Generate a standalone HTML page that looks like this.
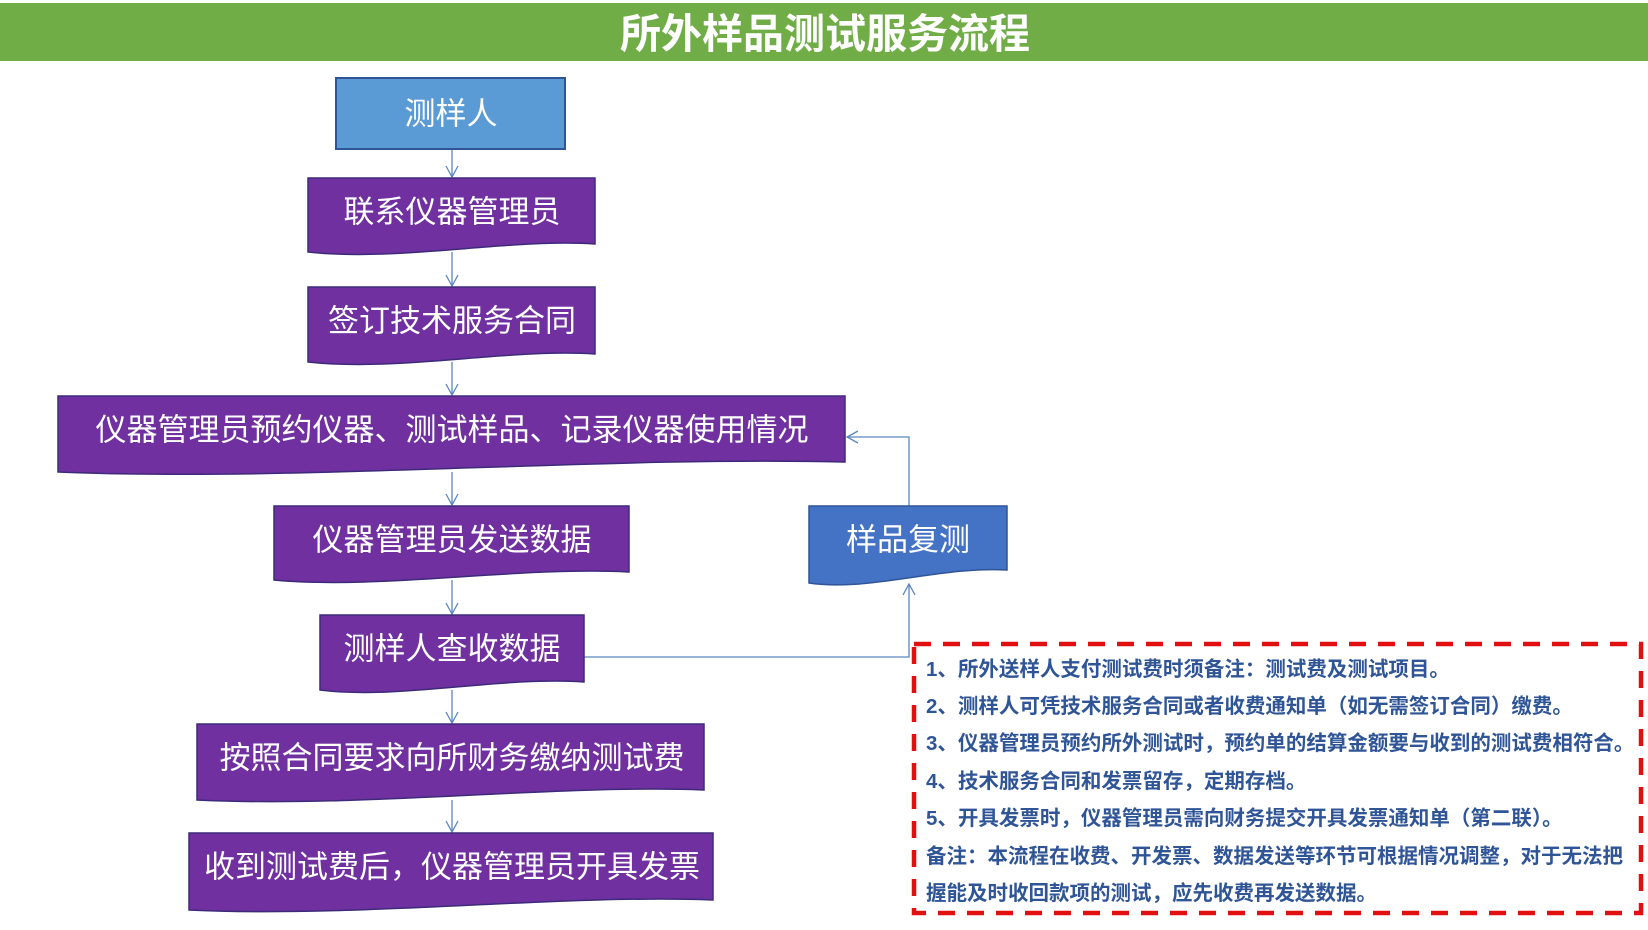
<!DOCTYPE html>
<html><head><meta charset="utf-8"><style>
html,body{margin:0;padding:0;background:#fff;}
body{width:1648px;height:930px;overflow:hidden;position:relative;}
svg{position:absolute;left:0;top:0;}
.t{font-family:"Liberation Sans","Noto Sans CJK SC",sans-serif;fill:#fff;text-anchor:middle;dominant-baseline:central;}
.n{font-family:"Liberation Sans","Noto Sans CJK SC",sans-serif;font-weight:bold;fill:#2f5597;font-size:20.5px;}
</style></head><body>
<svg width="1648" height="930" viewBox="0 0 1648 930">
<defs>
<marker id="a" markerWidth="14" markerHeight="14" refX="12" refY="7" orient="auto" markerUnits="userSpaceOnUse">
<path d="M1,1 L12,7 L1,13" fill="none" stroke="#5b86c0" stroke-width="1.3"/>
</marker>
</defs>
<rect x="0" y="3" width="1648" height="58" fill="#70ad47"/>
<text class="t" x="825" y="34" font-size="41" font-weight="bold">所外样品测试服务流程</text>

<g stroke="#5b86c0" stroke-width="1.3" fill="none">
<line x1="452" y1="149" x2="452" y2="177" marker-end="url(#a)"/>
<line x1="452" y1="252" x2="452" y2="286" marker-end="url(#a)"/>
<line x1="452" y1="362" x2="452" y2="395" marker-end="url(#a)"/>
<line x1="452" y1="472" x2="452" y2="505" marker-end="url(#a)"/>
<line x1="452" y1="580" x2="452" y2="614" marker-end="url(#a)"/>
<line x1="452" y1="690" x2="452" y2="723" marker-end="url(#a)"/>
<line x1="452" y1="800" x2="452" y2="832" marker-end="url(#a)"/>
<polyline points="584,657 909,657 909,584" marker-end="url(#a)"/>
<polyline points="909,506 909,437 847,437" marker-end="url(#a)"/>
</g>

<rect x="336" y="78" width="229" height="71" fill="#5b9bd5" stroke="#2f5597" stroke-width="2"/>
<text class="t" x="451" y="114" font-size="31">测样人</text>

<g fill="#7030a0" stroke="#3d2a7a" stroke-width="1.5">
<path d="M308,178 H595 V244 C510,238 400,262 308,252 Z"/>
<path d="M308,287 H595 V354 C510,348 400,372 308,362 Z"/>
<path d="M58,396 H845 V462 C600,456 300,482 58,472 Z"/>
<path d="M274,506 H629 V572 C520,566 380,590 274,580 Z"/>
<path d="M320,615 H584 V682 C500,676 400,700 320,690 Z"/>
<path d="M197,724 H704 V790 C560,784 360,808 197,800 Z"/>
<path d="M189,833 H713 V900 C560,894 360,918 189,910 Z"/>
</g>
<path d="M809,506 H1007 V570 C940,566 870,592 809,583 Z" fill="#4472c4" stroke="#2f5597" stroke-width="1.5"/>

<text class="t" x="452" y="212" font-size="31">联系仪器管理员</text>
<text class="t" x="452" y="321" font-size="31">签订技术服务合同</text>
<text class="t" x="452" y="430" font-size="31">仪器管理员预约仪器、测试样品、记录仪器使用情况</text>
<text class="t" x="452" y="540" font-size="31">仪器管理员发送数据</text>
<text class="t" x="452" y="649" font-size="31">测样人查收数据</text>
<text class="t" x="452" y="758" font-size="31">按照合同要求向所财务缴纳测试费</text>
<text class="t" x="452" y="867" font-size="31">收到测试费后，仪器管理员开具发票</text>
<text class="t" x="908" y="540" font-size="31">样品复测</text>

<rect x="914" y="644" width="727" height="269" fill="none" stroke="#e01010" stroke-width="4.5" stroke-dasharray="17,12"/>
<text class="n" x="926" y="676">1、所外送样人支付测试费时须备注：测试费及测试项目。</text>
<text class="n" x="926" y="713">2、测样人可凭技术服务合同或者收费通知单（如无需签订合同）缴费。</text>
<text class="n" x="926" y="750">3、仪器管理员预约所外测试时，预约单的结算金额要与收到的测试费相符合。</text>
<text class="n" x="926" y="788">4、技术服务合同和发票留存，定期存档。</text>
<text class="n" x="926" y="825">5、开具发票时，仪器管理员需向财务提交开具发票通知单（第二联）。</text>
<text class="n" x="926" y="863">备注：本流程在收费、开发票、数据发送等环节可根据情况调整，对于无法把</text>
<text class="n" x="926" y="900">握能及时收回款项的测试，应先收费再发送数据。</text>
</svg>
</body></html>
